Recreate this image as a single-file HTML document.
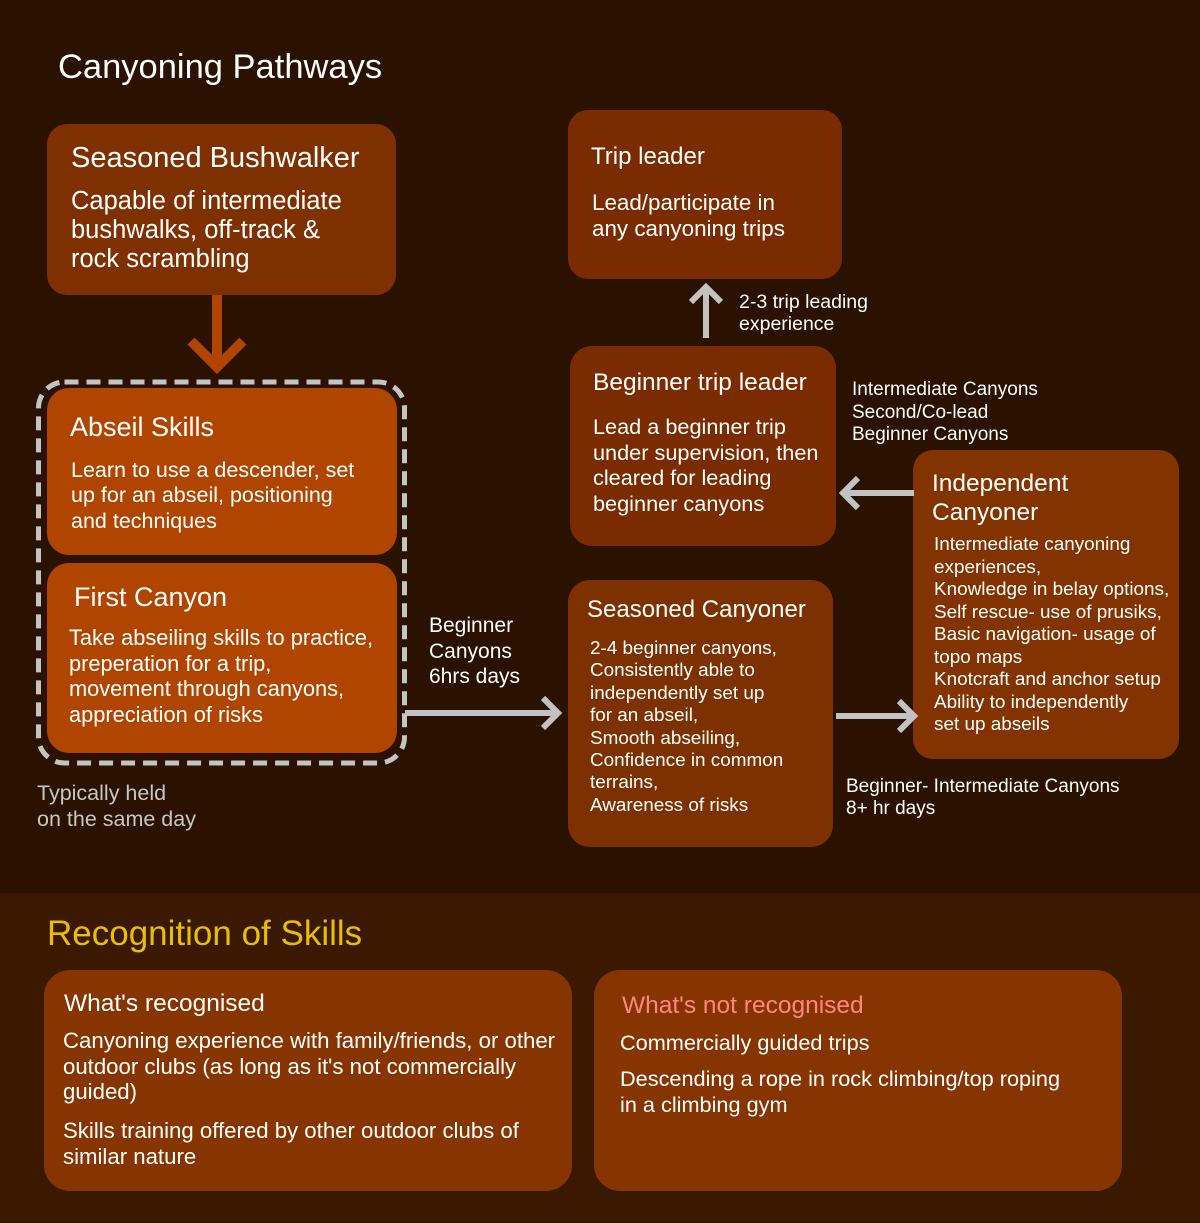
<!DOCTYPE html>
<html>
<head>
<meta charset="utf-8">
<style>
  html,body{margin:0;padding:0;}
  body{width:1200px;height:1222px;position:relative;overflow:hidden;background:#2a1100;font-family:"Liberation Sans",sans-serif;color:#fff;}
  .bg2{position:absolute;left:0;top:893px;width:1200px;height:329px;background:#3b1800;}
  .box{position:absolute;}
  .t{position:absolute;white-space:nowrap;color:#fff;}
  svg{position:absolute;left:0;top:0;}
  .tx{position:absolute;left:0;top:1px;width:1200px;height:1222px;}
</style>
</head>
<body>
<div class="bg2"></div>

<!-- boxes -->
<div class="box" style="left:47px;top:124px;width:349px;height:171px;background:#7e3000;border-radius:20px;"></div>
<div class="box" style="left:47px;top:388px;width:350px;height:167px;background:#b04500;border-radius:22px;"></div>
<div class="box" style="left:47px;top:563px;width:350px;height:190px;background:#b04500;border-radius:22px;"></div>
<div class="box" style="left:568px;top:110px;width:274px;height:169px;background:#7a2c00;border-radius:20px;"></div>
<div class="box" style="left:570px;top:346px;width:266px;height:200px;background:#7a2c00;border-radius:22px;"></div>
<div class="box" style="left:913px;top:450px;width:266px;height:309px;background:#823300;border-radius:20px;"></div>
<div class="box" style="left:568px;top:580px;width:265px;height:267px;background:#7e3100;border-radius:22px;"></div>
<div class="box" style="left:44px;top:970px;width:528px;height:221px;background:#873500;border-radius:26px;"></div>
<div class="box" style="left:594px;top:970px;width:528px;height:221px;background:#873500;border-radius:26px;"></div>

<svg width="1200" height="1222" viewBox="0 0 1200 1222">
  <!-- orange arrow down -->
  <line x1="217" y1="295" x2="217" y2="362" stroke="#b04500" stroke-width="10"/>
  <polyline points="191,341 217,367 243,341" fill="none" stroke="#b04500" stroke-width="10"/>
  <!-- dashed group -->
  <rect x="38.5" y="382" width="366" height="381" rx="26" ry="26" fill="none" stroke="#c4c4c4" stroke-width="5" stroke-dasharray="14 8"/>
  <!-- gray arrows -->
  <g stroke="#c2c2c2" stroke-width="6" fill="none">
    <line x1="405" y1="713" x2="556" y2="713"/>
    <polyline points="543,698 558,713 543,728"/>
    <line x1="836" y1="716" x2="913" y2="716"/>
    <polyline points="899,701 914,716 899,731"/>
    <line x1="914" y1="493" x2="846" y2="493"/>
    <polyline points="858,478 843,493 858,508"/>
    <line x1="706" y1="338" x2="706" y2="290"/>
    <polyline points="691,302 706,287 721,302"/>
  </g>
</svg>

<div class="tx">
<div class="t" style="left:58px;top:46px;font-size:34.5px;line-height:40px;">Canyoning Pathways</div>

<div class="t" style="left:71px;top:140px;font-size:29px;line-height:34px;">Seasoned Bushwalker</div>
<div class="t" style="left:71px;top:185.5px;font-size:25.5px;line-height:29px;">Capable of intermediate<br>bushwalks, off-track &amp;<br>rock scrambling</div>

<div class="t" style="left:70px;top:410px;font-size:27px;line-height:32px;">Abseil Skills</div>
<div class="t" style="left:71px;top:456.5px;font-size:21.5px;line-height:25.5px;">Learn to use a descender, set<br>up for an abseil, positioning<br>and techniques</div>

<div class="t" style="left:74px;top:580px;font-size:27px;line-height:32px;">First Canyon</div>
<div class="t" style="left:69px;top:624px;font-size:21.8px;line-height:25.7px;">Take abseiling skills to practice,<br>preperation for a trip,<br>movement through canyons,<br>appreciation of risks</div>

<div class="t" style="left:37px;top:779px;font-size:21.5px;line-height:26px;color:#c6c6c6;">Typically held<br>on the same day</div>

<div class="t" style="left:429px;top:612px;font-size:21px;line-height:25.5px;">Beginner<br>Canyons<br>6hrs days</div>

<div class="t" style="left:591px;top:141px;font-size:24px;line-height:30px;">Trip leader</div>
<div class="t" style="left:592px;top:189px;font-size:22.4px;line-height:26px;">Lead/participate in<br>any canyoning trips</div>

<div class="t" style="left:739px;top:290px;font-size:19.5px;line-height:22px;">2-3 trip leading<br>experience</div>

<div class="t" style="left:593px;top:367px;font-size:24.5px;line-height:30px;">Beginner trip leader</div>
<div class="t" style="left:593px;top:413px;font-size:21.7px;line-height:25.7px;">Lead a beginner trip<br>under supervision, then<br>cleared for leading<br>beginner canyons</div>

<div class="t" style="left:852px;top:378px;font-size:19px;line-height:22.5px;">Intermediate Canyons<br>Second/Co-lead<br>Beginner Canyons</div>

<div class="t" style="left:932px;top:467.5px;font-size:24.5px;line-height:29px;">Independent<br>Canyoner</div>
<div class="t" style="left:934px;top:533px;font-size:18.9px;line-height:22.5px;">Intermediate canyoning<br>experiences,<br>Knowledge in belay options,<br>Self rescue- use of prusiks,<br>Basic navigation- usage of<br>topo maps<br>Knotcraft and anchor setup<br>Ability to independently<br>set up abseils</div>

<div class="t" style="left:587px;top:594px;font-size:24px;line-height:30px;">Seasoned Canyoner</div>
<div class="t" style="left:590px;top:637px;font-size:18.9px;line-height:22.4px;">2-4 beginner canyons,<br>Consistently able to<br>independently set up<br>for an abseil,<br>Smooth abseiling,<br>Confidence in common<br>terrains,<br>Awareness of risks</div>

<div class="t" style="left:846px;top:775px;font-size:19px;line-height:22px;">Beginner- Intermediate Canyons<br>8+ hr days</div>

<div class="t" style="left:47px;top:913px;font-size:35px;line-height:40px;color:#e6bf00;">Recognition of Skills</div>

<div class="t" style="left:64px;top:988px;font-size:24.5px;line-height:30px;">What's recognised</div>
<div class="t" style="left:63px;top:1027px;font-size:22.2px;line-height:25.5px;">Canyoning experience with family/friends, or other<br>outdoor clubs (as long as it's not commercially<br>guided)</div>
<div class="t" style="left:63px;top:1117px;font-size:22.2px;line-height:25.5px;">Skills training offered by other outdoor clubs of<br>similar nature</div>

<div class="t" style="left:622px;top:990px;font-size:24.5px;line-height:30px;color:#ff8585;">What's not recognised</div>
<div class="t" style="left:620px;top:1029px;font-size:21.7px;line-height:26px;">Commercially guided trips</div>
<div class="t" style="left:620px;top:1065px;font-size:21.7px;line-height:26px;">Descending a rope in rock climbing/top roping<br>in a climbing gym</div>
</div>

</body>
</html>
